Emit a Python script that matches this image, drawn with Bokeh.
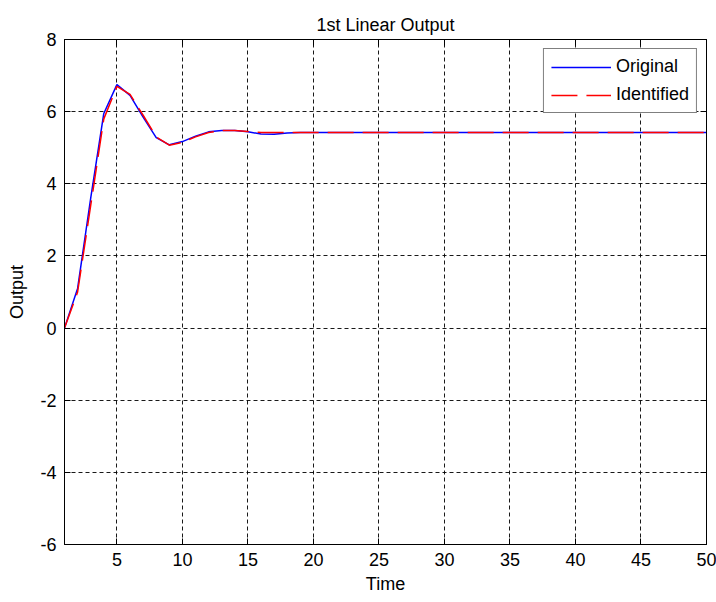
from bokeh.plotting import figure
from bokeh.models import LinearAxis, Range1d, Legend, LegendItem, FixedTicker, ColumnDataSource
from bokeh.embed import file_html
from bokeh.resources import INLINE

# ---- data ----
time = list(range(1, 51))
original = [0.0, 1.1, 3.6, 5.95, 6.75, 6.45, 5.85, 5.28, 5.08, 5.17,
            5.32, 5.44, 5.48, 5.48, 5.44, 5.38, 5.37, 5.41, 5.42, 5.42,
            5.42, 5.42, 5.42, 5.42, 5.42, 5.42, 5.42, 5.42, 5.42, 5.42,
            5.42, 5.42, 5.42, 5.42, 5.42, 5.42, 5.42, 5.42, 5.42, 5.42,
            5.42, 5.42, 5.42, 5.42, 5.42, 5.42, 5.42, 5.42, 5.42, 5.42]
identified = [0.0, 1.0, 3.4, 5.8, 6.7, 6.48, 5.9, 5.3, 5.07, 5.15,
              5.3, 5.42, 5.48, 5.48, 5.45, 5.42, 5.42, 5.42, 5.42, 5.42,
              5.42, 5.42, 5.42, 5.42, 5.42, 5.42, 5.42, 5.42, 5.42, 5.42,
              5.42, 5.42, 5.42, 5.42, 5.42, 5.42, 5.42, 5.42, 5.42, 5.42,
              5.42, 5.42, 5.42, 5.42, 5.42, 5.42, 5.42, 5.42, 5.42, 5.42]
x_ticks = [5, 10, 15, 20, 25, 30, 35, 40, 45, 50]
y_ticks = [-6, -4, -2, 0, 2, 4, 6, 8]
y_tick_labels = ["-6", "-4", "-2", "0", "2", "4", "6", "8"]
title_text = "1st Linear Output"
x_label = "Time"
y_label = "Output"
series_names = ["Original", "Identified"]

FONT = "Liberation Sans"
FS = "18px"

src = ColumnDataSource(dict(t=time, orig=original, ident=identified))

p = figure(width=716, height=602, x_range=Range1d(1, 50), y_range=Range1d(-6, 8),
           output_backend="svg", toolbar_location=None,
           min_border_left=64, min_border_right=10, min_border_top=39, min_border_bottom=58,
           x_axis_location="below", y_axis_location="left")
p.background_fill_color = "white"
p.border_fill_color = "white"
p.outline_line_color = "black"
p.outline_line_width = 1

p.title.text = title_text
p.title.align = "center"
p.title.text_font = FONT
p.title.text_font_size = FS
p.title.text_font_style = "normal"
p.title.text_color = "black"

for ax, ticks in ((p.xaxis[0], x_ticks), (p.yaxis[0], y_ticks)):
    ax.ticker = FixedTicker(ticks=ticks)
    ax.major_tick_in = 6
    ax.major_tick_out = 0
    ax.minor_tick_line_color = None
    ax.axis_line_color = "black"
    ax.major_tick_line_color = "black"
    ax.major_label_text_font = FONT
    ax.major_label_text_font_size = FS
    ax.major_label_text_color = "black"
    ax.axis_label_text_font = FONT
    ax.axis_label_text_font_size = FS
    ax.axis_label_text_font_style = "normal"
    ax.axis_label_text_color = "black"
    ax.major_label_standoff = 8

p.yaxis[0].major_label_overrides = {t: s for t, s in zip(y_ticks, y_tick_labels)}
p.xaxis.axis_label = x_label
p.yaxis.axis_label = y_label
p.xaxis.axis_label_standoff = 5
p.yaxis.axis_label_standoff = 10

# top and right tick-only axes
for loc, ticks in (("above", x_ticks), ("right", y_ticks)):
    ax = LinearAxis(ticker=FixedTicker(ticks=ticks))
    ax.major_tick_in = 6
    ax.major_tick_out = 0
    ax.minor_tick_line_color = None
    ax.axis_line_color = "black"
    ax.major_label_text_font_size = "0px"
    ax.major_label_text_color = None
    ax.major_label_standoff = 0
    p.add_layout(ax, loc)

for g, ticks in ((p.xgrid[0], x_ticks), (p.ygrid[0], y_ticks)):
    g.ticker = FixedTicker(ticks=ticks)
    g.grid_line_color = "black"
    g.grid_line_dash = "4 3"
    g.grid_line_width = 1
    g.grid_line_alpha = 0.9

r1 = p.line("t", "orig", source=src, line_color="#0000ff", line_width=1.5)
r2 = p.line("t", "ident", source=src, line_color="#ff0000", line_width=1.5, line_dash="26 9")

legend = Legend(items=[LegendItem(label=series_names[0], renderers=[r1]),
                       LegendItem(label=series_names[1], renderers=[r2])],
                location="top_right")
legend.border_line_color = "black"
legend.border_line_width = 1
legend.background_fill_color = "white"
legend.background_fill_alpha = 1
legend.label_text_font = FONT
legend.label_text_font_size = FS
legend.label_text_color = "black"
legend.glyph_width = 60
legend.glyph_height = 20
legend.label_height = 20
legend.label_standoff = 5
legend.spacing = 7
legend.padding = 7
legend.margin = 9
p.add_layout(legend, "center")

open("out.html", "w").write(file_html(p, INLINE))
